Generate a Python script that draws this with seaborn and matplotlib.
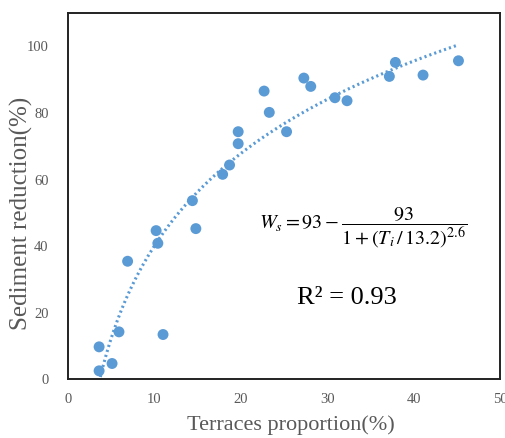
import numpy as np
import pandas as pd
import matplotlib
matplotlib.use("Agg")
import matplotlib.pyplot as plt
import seaborn as sns

# Terrace proportion (%) and sediment reduction (%) for each catchment
terraces = [3.6, 3.6, 5.1, 5.9, 6.9, 10.2, 10.4, 11.0, 14.4, 14.8, 17.9, 18.7, 19.7,
            19.7, 22.7, 23.3, 25.3, 27.3, 28.1, 30.9, 32.3, 37.2, 37.9, 41.1, 45.2]
sediment = [2.6, 9.8, 4.8, 14.3, 35.5, 44.7, 40.9, 13.5, 53.7, 45.3, 61.6, 64.4, 70.8,
            74.4, 86.6, 80.2, 74.4, 90.5, 88.0, 84.6, 83.7, 91.0, 95.2, 91.4, 95.7]
x_ticks = [0, 10, 20, 30, 40, 50]
y_ticks = [0, 20, 40, 60, 80, 100]

df = pd.DataFrame({"terraces": terraces, "sediment": sediment})

sns.set_theme(style="white")
plt.rcParams["font.family"] = ["Liberation Serif", "DejaVu Serif"]
plt.rcParams["mathtext.fontset"] = "stix"

blue = "#5B9BD5"
grey = "#595959"

fig = plt.figure(figsize=(5.06, 4.38), dpi=100)
ax = fig.add_axes([0.1344, 0.1336, 0.8536, 0.8364])

# logarithmic trend line fitted to the data
a, b = np.polyfit(np.log(df["terraces"]), df["sediment"], 1)
xs = np.linspace(df["terraces"].min(), df["terraces"].max(), 200)
sns.lineplot(x=xs, y=a * np.log(xs) + b, ax=ax, color=blue, lw=2.2,
             linestyle=(0, (0.7, 1.0)))

sns.scatterplot(data=df, x="terraces", y="sediment", ax=ax, color=blue,
                s=62, edgecolor="none", zorder=3)

ax.set_xlim(0, 50)
ax.set_ylim(0, 110)
ax.set_xticks(x_ticks)
ax.set_yticks(y_ticks)
ax.tick_params(direction="in", length=4, width=1, colors="#333333",
               labelcolor=grey, labelsize=10.5)
ax.tick_params(axis="x", pad=10)
ax.tick_params(axis="y", pad=14)
for s in ax.spines.values():
    s.set_color("#222222")
    s.set_linewidth(1.4)

ax.set_xlabel("Terraces proportion(%)", fontsize=16, color=grey)
ax.set_ylabel("Sediment reduction(%)", fontsize=18, color=grey)
ax.xaxis.set_label_coords(0.517, -0.098)
ax.yaxis.set_label_coords(-0.082, 0.453)

ax.text(0.683, 0.415,
        r"$W_s = 93 - \dfrac{93}{1 + \left(T_i\,/\,13.2\right)^{2.6}}$",
        transform=ax.transAxes, ha="center", va="center", fontsize=14.5, color="black")
ax.text(0.646, 0.222, "R² = 0.93", transform=ax.transAxes, ha="center", va="center",
        fontsize=19, color="black")

fig.savefig("out.png", dpi=100)
